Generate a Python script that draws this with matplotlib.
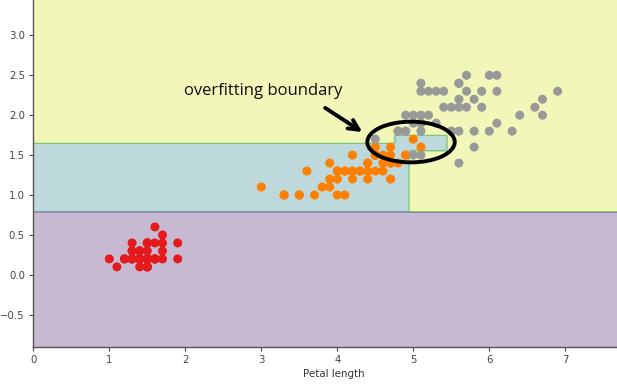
import numpy as np
import matplotlib
matplotlib.use("Agg")
import matplotlib.pyplot as plt
from matplotlib.patches import Ellipse

setosa_len = [1.4,1.4,1.3,1.5,1.4,1.7,1.4,1.5,1.4,1.5,1.5,1.6,1.4,1.1,1.2,1.5,1.3,1.4,1.7,1.5,
              1.7,1.5,1.0,1.7,1.9,1.6,1.6,1.5,1.4,1.6,1.6,1.5,1.5,1.4,1.5,1.2,1.3,1.5,1.3,1.5,
              1.3,1.3,1.3,1.6,1.9,1.4,1.6,1.4,1.5,1.4]
setosa_wid = [0.2,0.2,0.2,0.2,0.2,0.4,0.3,0.2,0.2,0.1,0.2,0.2,0.1,0.1,0.2,0.4,0.4,0.3,0.3,0.3,
              0.2,0.4,0.2,0.5,0.2,0.2,0.4,0.2,0.2,0.2,0.2,0.4,0.1,0.2,0.1,0.2,0.2,0.1,0.2,0.2,
              0.3,0.3,0.2,0.6,0.4,0.3,0.2,0.2,0.2,0.2]
versicolor_len = [4.7,4.5,4.9,4.0,4.6,4.5,4.7,3.3,4.6,3.9,3.5,4.2,4.0,4.7,3.6,4.4,4.5,4.1,4.5,3.9,
                  4.8,4.0,4.9,4.7,4.3,4.4,4.8,5.0,4.5,3.5,3.8,3.7,3.9,5.1,4.5,4.5,4.7,4.4,4.1,4.0,
                  4.4,4.6,4.0,3.3,4.2,4.2,4.2,4.3,3.0,4.1]
versicolor_wid = [1.4,1.5,1.5,1.3,1.5,1.3,1.6,1.0,1.3,1.4,1.0,1.5,1.0,1.4,1.3,1.4,1.5,1.0,1.5,1.1,
                  1.8,1.3,1.5,1.2,1.3,1.4,1.4,1.7,1.5,1.0,1.1,1.0,1.2,1.6,1.5,1.6,1.5,1.3,1.3,1.3,
                  1.2,1.4,1.2,1.0,1.3,1.2,1.3,1.3,1.1,1.3]
virginica_len = [6.0,5.1,5.9,5.6,5.8,6.6,4.5,6.3,5.8,6.1,5.1,5.3,5.5,5.0,5.1,5.3,5.5,6.7,6.9,5.0,
                 5.7,4.9,6.7,4.9,5.7,6.0,4.8,4.9,5.6,5.8,6.1,6.4,5.6,5.1,5.6,6.1,5.6,5.5,4.8,5.4,
                 5.6,5.1,5.1,5.9,5.7,5.2,5.0,5.2,5.4,5.1]
virginica_wid = [2.5,1.9,2.1,1.8,2.2,2.1,1.7,1.8,1.8,2.5,2.0,1.9,2.1,2.0,2.4,2.3,1.8,2.2,2.3,1.5,
                 2.3,2.0,2.0,1.8,2.1,1.8,1.8,1.8,2.1,1.6,1.9,2.0,2.2,1.5,1.4,2.3,2.4,1.8,1.8,2.1,
                 2.4,2.3,1.9,2.3,2.5,2.3,1.9,2.0,2.3,1.8]

# Decision-tree thresholds (read from the region boundaries)
t_setosa_width = 0.8
t_width_low = 1.65
t_length_mid = 4.95
t_box_len_left = 4.75
t_box_len_right = 5.45
t_box_width_top = 1.75
t_box_width_bottom = 1.55

x_ticks = [0, 1, 2, 3, 4, 5, 6, 7]
y_ticks = [-0.5, 0.0, 0.5, 1.0, 1.5, 2.0, 2.5, 3.0]
x_label = "Petal length"
annotation_text = "overfitting boundary"

pl = np.array(setosa_len + versicolor_len + virginica_len)
pw = np.array(setosa_wid + versicolor_wid + virginica_wid)
labels = np.array([0]*len(setosa_len) + [1]*len(versicolor_len) + [2]*len(virginica_len))


def predict(a, b):
    out = np.full(a.shape, 2)
    vers = ((b > t_setosa_width) & (b <= t_width_low) & (a <= t_length_mid)) | \
           ((a > t_box_len_left) & (a <= t_box_len_right) & (b > t_width_low) & (b <= t_box_width_top)) | \
           ((a > t_length_mid) & (a <= t_box_len_right) & (b > t_box_width_bottom) & (b <= t_width_low))
    out[vers] = 1
    out[b <= t_setosa_width] = 0
    return out


x_min, x_max = pl.min() - 1, pl.max() + 1
y_min, y_max = pw.min() - 1, pw.max() + 1
step = 0.02
xx, yy = np.meshgrid(np.arange(x_min, x_max, step), np.arange(y_min, y_max, step))
Z = predict(xx, yy)

W, H = 617, 387
fig = plt.figure(figsize=(W/100, H/100), dpi=100)
ax_left, ax_bottom = 33.3, 346.7
ax_w = (x_max - x_min) * 76.0
ax_h = (y_max - y_min) * 79.83
ax = fig.add_axes([ax_left/W, (H-ax_bottom)/H, ax_w/W, ax_h/H])

ax.contourf(xx, yy, Z, alpha=0.3, cmap='viridis')
ax.scatter(pl, pw, c=labels, cmap=plt.cm.Set1, s=30, zorder=3)
ax.set_xlim(x_min, x_max)
ax.set_ylim(y_min, y_max)
ax.set_xticks(x_ticks)
ax.set_yticks(y_ticks)
ax.set_xlabel(x_label, fontsize=7.4, color='#333333', labelpad=3)
ax.tick_params(labelsize=7.3, colors='#444444', length=3, pad=3)
for s in ax.spines.values():
    s.set_color('#555555')
    s.set_linewidth(1.0)

# annotation
ax.text(3.02, 2.30, annotation_text, fontsize=12, family=['Open Sans', 'DejaVu Sans'],
        ha='center', va='center', color='#111111', zorder=5)
ax.annotate('', xy=(4.36, 1.77), xytext=(3.81, 2.11),
            arrowprops=dict(arrowstyle='->', lw=2.8, color='black', mutation_scale=18),
            zorder=5)
ax.add_patch(Ellipse((4.97, 1.664), 1.15, 0.51, fill=False, lw=2.8, edgecolor='black', zorder=5))

fig.savefig('out.png', dpi=100)
